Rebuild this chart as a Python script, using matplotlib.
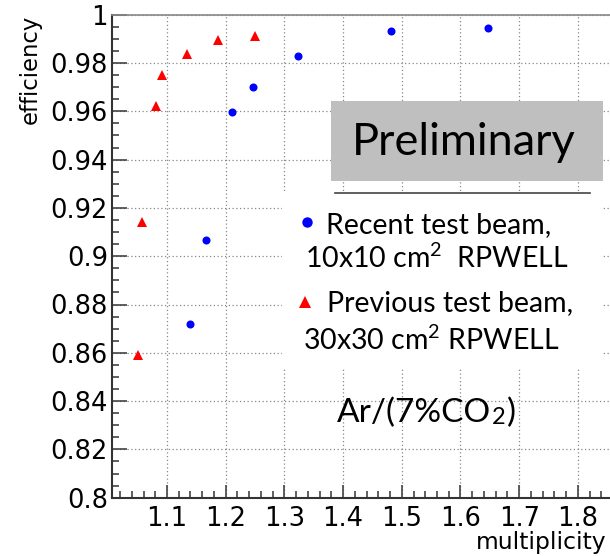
import matplotlib
matplotlib.use("Agg")
import matplotlib.pyplot as plt
from matplotlib.patches import Rectangle
from matplotlib.ticker import MultipleLocator

# recent test beam, 10x10 cm2 RPWELL
recent_mult = [1.140, 1.166, 1.211, 1.247, 1.324, 1.482, 1.647]
recent_eff = [0.872, 0.9067, 0.9596, 0.970, 0.983, 0.9934, 0.9945]

# previous test beam, 30x30 cm2 RPWELL
prev_mult = [1.051, 1.057, 1.082, 1.092, 1.1335, 1.1875, 1.250]
prev_eff = [0.859, 0.914, 0.962, 0.975, 0.9837, 0.9895, 0.991]

W, H = 610, 556
fig = plt.figure(figsize=(W / 100, H / 100), dpi=100)
ax = fig.add_axes([112 / W, 1 - 497.7 / H, (W - 112) / W, (497.7 - 14.7) / H])

ax.set_xlim(1.0063, 1.8547)
ax.set_ylim(0.8, 1.0)
ax.xaxis.set_minor_locator(MultipleLocator(0.02))
ax.yaxis.set_minor_locator(MultipleLocator(0.005))
ax.set_xticks([1.1, 1.2, 1.3, 1.4, 1.5, 1.6, 1.7, 1.8])
ax.set_xticklabels(["1.1", "1.2", "1.3", "1.4", "1.5", "1.6", "1.7", "1.8"])
ax.set_yticks([0.8, 0.82, 0.84, 0.86, 0.88, 0.9, 0.92, 0.94, 0.96, 0.98, 1.0])
ax.set_yticklabels(["0.8", "0.82", "0.84", "0.86", "0.88", "0.9", "0.92",
                    "0.94", "0.96", "0.98", "1"])

ax.tick_params(which="both", direction="in", color="#444444", width=1.2,
               labelsize=18.5, labelcolor="black", top=False, right=False)
ax.tick_params(axis="y", which="major", length=11, pad=3)
ax.tick_params(axis="x", which="major", length=9.5, pad=6)
ax.tick_params(which="minor", length=5)
for lab in ax.get_xticklabels() + ax.get_yticklabels():
    lab.set_family("DejaVu Sans")

ax.grid(True, which="major", linestyle=(0, (1, 2)), color="#888888", linewidth=0.9)
ax.set_axisbelow(True)

ax.spines["right"].set_visible(False)
ax.spines["left"].set_linewidth(1.5)
ax.spines["bottom"].set_linewidth(1.5)
ax.spines["left"].set_color("#333333")
ax.spines["bottom"].set_color("#333333")
ax.spines["top"].set_color("#888888")
ax.spines["top"].set_linewidth(1.2)

# white panel behind the legend text, grey "Preliminary" box
ax.add_patch(Rectangle((1.296, 0.8537), 1.843 - 1.296, 0.926 - 0.8537,
                       facecolor="white", edgecolor="none", zorder=1.5))
ax.add_patch(Rectangle((1.379, 0.9312), 1.843 - 1.379, 0.9643 - 0.9312,
                       facecolor="#bfbfbf", edgecolor="none", zorder=1.6))
ax.plot([1.3865, 1.8205], [0.9261, 0.9261], color="#444444", lw=1.2, zorder=1.7)

ax.plot(recent_mult, recent_eff, "o", color="#0000ff", markersize=5.8,
        markeredgewidth=0, zorder=3)
ax.plot(prev_mult, prev_eff, "^", color="#ff0000", markersize=7.2,
        markeredgewidth=0, zorder=3)

# legend drawn by hand, as in the slide
font = "Lato"
px = lambda x, y: (x / W, 1 - y / H)
fig.text(*px(352, 155), "Preliminary", fontsize=32.5, family=font)
fig.text(*px(326, 233), "Recent test beam,", fontsize=20.5, family=font)
fig.text(*px(305, 268), "10x10 cm$^\\mathregular{2}$  RPWELL", fontsize=20.5, family=font)
fig.text(*px(327, 311), "Previous test beam,", fontsize=20.5, family=font)
fig.text(*px(303, 350), "30x30 cm$^\\mathregular{2}$ RPWELL", fontsize=20.5, family=font)
plt.rcParams["mathtext.fontset"] = "custom"
plt.rcParams["mathtext.rm"] = font

gas = fig.text(*px(337, 422), "Ar/(7%CO", fontsize=24, family=font)
fig.canvas.draw()
r = fig.canvas.get_renderer()
x_end = gas.get_window_extent(r).x1
sub = fig.text(x_end / W + 1 / W, 1 - 424 / H, "2", fontsize=17, family=font)
x_end = sub.get_window_extent(r).x1
fig.text(x_end / W + 1 / W, 1 - 422 / H, ")", fontsize=24, family=font)

fig.lines.append(plt.Line2D([307 / W], [1 - 222 / H], marker="o", color="#0000ff",
                            markersize=7.5, markeredgewidth=0, transform=fig.transFigure))
fig.lines.append(plt.Line2D([305 / W], [1 - 302 / H], marker="^", color="#ff0000",
                            markersize=9, markeredgewidth=0, transform=fig.transFigure))

fig.text(30 / W, 1 - 15 / H, "efficiency", rotation=90, ha="center", va="top",
         fontsize=16.4, family="DejaVu Sans")
fig.text(606 / W, 1 - 549 / H, "multiplicity", ha="right", va="baseline",
         fontsize=16.8, family="DejaVu Sans")

fig.savefig("out.png", dpi=100)
